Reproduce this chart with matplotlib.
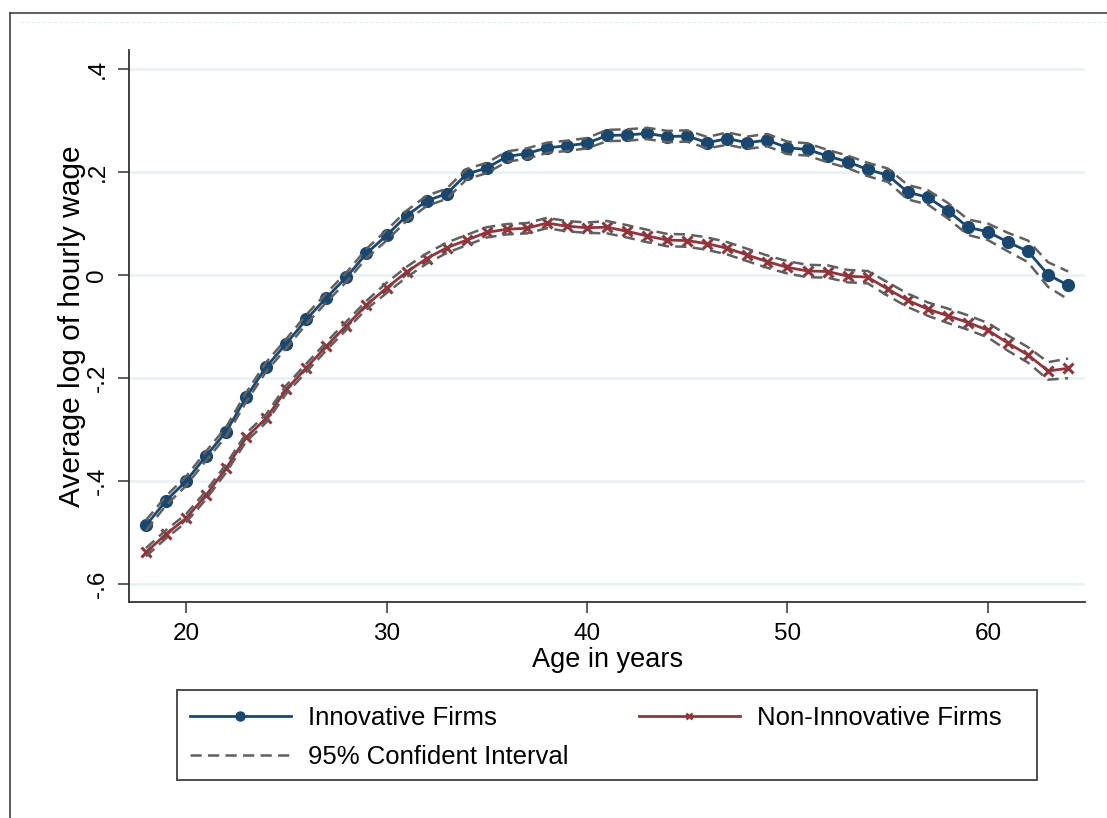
import matplotlib
matplotlib.use('Agg')
import matplotlib.pyplot as plt
from matplotlib.lines import Line2D
from matplotlib.patches import Rectangle
import numpy as np

plt.rcParams['font.family'] = ['Liberation Sans', 'DejaVu Sans']

# average log hourly wage by age
ages = list(range(18, 65))
innovative = [-0.486, -0.438, -0.400, -0.351, -0.304, -0.237, -0.178, -0.133, -0.086, -0.044,
              -0.004, 0.042, 0.077, 0.115, 0.144, 0.158, 0.196, 0.208, 0.230, 0.236,
              0.247, 0.251, 0.256, 0.271, 0.272, 0.275, 0.269, 0.270, 0.257, 0.265,
              0.257, 0.262, 0.247, 0.244, 0.231, 0.220, 0.205, 0.194, 0.161, 0.151,
              0.125, 0.093, 0.084, 0.064, 0.046, 0.001, -0.020]
non_innovative = [-0.538, -0.503, -0.472, -0.427, -0.375, -0.315, -0.278, -0.222, -0.180, -0.138,
                  -0.098, -0.058, -0.025, 0.006, 0.032, 0.053, 0.068, 0.083, 0.089, 0.091,
                  0.101, 0.095, 0.092, 0.093, 0.085, 0.076, 0.068, 0.067, 0.061, 0.052,
                  0.039, 0.026, 0.015, 0.008, 0.007, -0.002, -0.004, -0.027, -0.049, -0.066,
                  -0.079, -0.092, -0.107, -0.132, -0.155, -0.186, -0.181]

# half width of the 95% interval
ci_innovative = [0.010, 0.009, 0.009, 0.009, 0.009, 0.009, 0.009, 0.009, 0.009, 0.009,
                 0.009, 0.009, 0.010, 0.010, 0.010, 0.010, 0.010, 0.010, 0.010, 0.010,
                 0.010, 0.010, 0.010, 0.011, 0.011, 0.011, 0.011, 0.011, 0.011, 0.012,
                 0.012, 0.012, 0.012, 0.012, 0.012, 0.012, 0.013, 0.013, 0.014, 0.014,
                 0.015, 0.015, 0.016, 0.018, 0.021, 0.024, 0.027]
ci_non_innovative = [0.008, 0.008, 0.008, 0.008, 0.008, 0.008, 0.008, 0.008, 0.008, 0.008,
                     0.008, 0.008, 0.010, 0.010, 0.010, 0.010, 0.010, 0.010, 0.010, 0.010,
                     0.010, 0.010, 0.010, 0.012, 0.012, 0.012, 0.012, 0.012, 0.012, 0.012,
                     0.012, 0.012, 0.012, 0.012, 0.012, 0.012, 0.012, 0.013, 0.013, 0.013,
                     0.014, 0.014, 0.014, 0.015, 0.015, 0.017, 0.019]

y_ticks = [0.4, 0.2, 0.0, -0.2, -0.4, -0.6]
y_ticklabels = ['.4', '.2', '0', '-.2', '-.4', '-.6']
x_ticks = [20, 30, 40, 50, 60]

blue = '#1a476f'
red = '#90353b'
grey = '#606060'
axis_col = '#333333'

W, H = 1107, 818
fig = plt.figure(figsize=(W / 100, H / 100), dpi=100)
ax = fig.add_axes([0.1168, 0.2644, 0.8633, 0.6745])

inn = np.array(innovative)
non = np.array(non_innovative)
ci_i = np.array(ci_innovative)
ci_n = np.array(ci_non_innovative)

ax.plot(ages, inn, color=blue, lw=2, marker='o', ms=8.5, mec=blue, mfc=blue, zorder=3)
ax.plot(ages, non, color=red, lw=2, marker='x', ms=6.5, mew=2.2, mec=red, zorder=3)
for band in (inn - ci_i, inn + ci_i, non - ci_n, non + ci_n):
    ax.plot(ages, band, color=grey, lw=1.8, dashes=(4.5, 2.5), zorder=4)

ax.set_xlim(17.17, 64.84)
ax.set_ylim(-0.634, 0.437)
ax.set_xticks(x_ticks)
ax.set_yticks(y_ticks)
ax.set_yticklabels(y_ticklabels, rotation=90, va='center')
ax.tick_params(axis='both', labelsize=17.5, length=8, width=1.1, color=axis_col)
ax.tick_params(axis='x', pad=7)
ax.tick_params(axis='y', pad=7)
ax.grid(axis='y', color='#eaf2f3', lw=2)
ax.set_axisbelow(True)
for s in ('top', 'right'):
    ax.spines[s].set_visible(False)
for s in ('left', 'bottom'):
    ax.spines[s].set_color(axis_col)
    ax.spines[s].set_linewidth(1.3)

ax.set_xlabel('Age in years', fontsize=19.5, labelpad=2)
ax.set_ylabel('Average log of hourly wage', fontsize=21.5, labelpad=0)

handles = [
    Line2D([], [], color=blue, lw=2, marker='o', ms=6.5),
    Line2D([], [], color=grey, lw=1.8, dashes=(4.5, 2.5)),
    Line2D([], [], color=red, lw=2, marker='x', ms=5, mew=1.8),
]
labels = ['Innovative Firms', '95% Confident Interval', 'Non-Innovative Firms']
leg = fig.legend(handles, labels, ncol=2, loc='upper left',
                 bbox_to_anchor=(190 / W, 1 - 706 / H),
                 borderaxespad=0, borderpad=0, fontsize=18.5, frameon=False,
                 handlelength=3.93, handletextpad=0.66, columnspacing=2.74,
                 numpoints=1, labelspacing=0.6)

# legend box
fig.add_artist(Rectangle((177 / W, 1 - 780 / H), 860 / W, 90 / H, fill=False,
                         edgecolor='#404040', lw=1.3, transform=fig.transFigure))

# outer frame of the graph region
fig.add_artist(Line2D([10 / W, 10 / W], [0, 1 - 13 / H], color=axis_col, lw=1.1,
                      transform=fig.transFigure))
fig.add_artist(Line2D([10 / W, 1], [1 - 13 / H, 1 - 13 / H], color=axis_col, lw=1.1,
                      transform=fig.transFigure))
fig.add_artist(Line2D([20 / W, 1], [1 - 22 / H, 1 - 22 / H], color='#e3eef0', lw=0.8,
                      dashes=(3, 2), transform=fig.transFigure))

fig.savefig('out.png', dpi=100)
